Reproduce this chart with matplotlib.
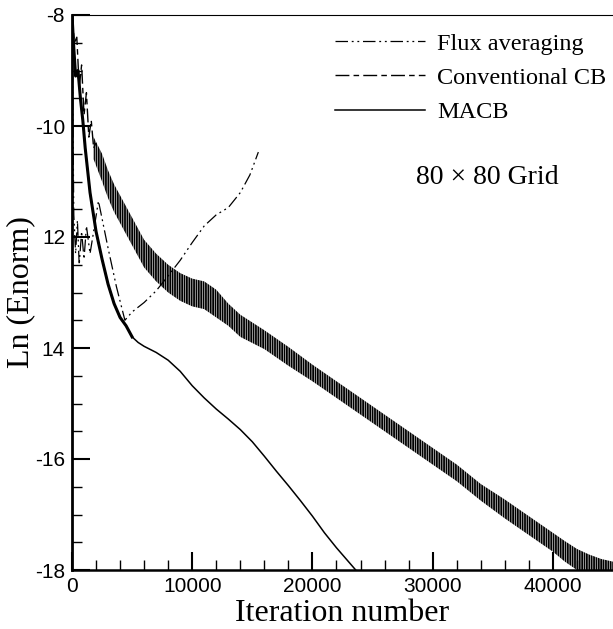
import matplotlib
matplotlib.use("Agg")
import matplotlib.pyplot as plt
from matplotlib.ticker import MultipleLocator

# MACB (solid)
macb_x = [0, 150, 300, 500, 700, 900, 1100, 1500, 2000, 2500, 3000, 3500, 4000, 4500, 5000, 5500,
          6000, 7000, 8000, 9000, 10000, 11000, 12000, 13000, 14000, 15000, 16000, 17000, 18000,
          19000, 20000, 21000, 22000, 23000, 23600]
macb_y = [-8.0, -8.6, -9.1, -9.0, -9.5, -9.9, -10.4, -11.2, -11.9, -12.4, -12.85, -13.2, -13.45,
          -13.6, -13.8, -13.9, -13.97, -14.08, -14.22, -14.42, -14.68, -14.9, -15.1, -15.28, -15.47,
          -15.69, -15.95, -16.22, -16.48, -16.75, -17.03, -17.33, -17.6, -17.85, -18.0]

# Flux averaging (dash-dot-dot)
flux_x = [0, 150, 300, 450, 600, 800, 1000, 1200, 1500, 1800, 2200, 3000, 3700, 4400, 5000, 6000,
          7000, 8000, 9000, 10000, 11000, 12000, 13000, 14000, 14800, 15500]
flux_y = [-8.0, -11.6, -12.3, -11.7, -12.5, -11.9, -12.4, -11.8, -12.3, -11.9, -11.35, -12.2,
          -12.9, -13.5, -13.35, -13.18, -12.97, -12.7, -12.42, -12.1, -11.8, -11.6, -11.47,
          -11.2, -10.88, -10.47]

# Conventional CB: early spiky descent, then a noisy band (upper / lower edges)
conv_x0 = [0, 200, 400, 600, 800, 1000, 1200, 1400, 1600, 1800, 2000]
conv_y0 = [-8.0, -8.5, -8.4, -9.3, -8.9, -9.8, -9.4, -10.2, -9.9, -10.4, -10.3]
conv_x = [1800, 2500, 3000, 3500, 4000, 5000, 6000, 7000, 8000, 9000, 10000, 11000, 12000, 13000,
          14000, 16000, 18000, 20000, 22000, 24000, 26000, 28000, 30000, 32000, 34000, 36000,
          38000, 40000, 41000, 42000, 43000, 44000, 45000]
conv_hi = [-10.2, -10.5, -10.8, -11.05, -11.25, -11.65, -12.05, -12.3, -12.5, -12.65, -12.75,
           -12.8, -12.95, -13.2, -13.4, -13.68, -13.98, -14.3, -14.6, -14.9, -15.2, -15.5,
           -15.8, -16.1, -16.45, -16.73, -17.03, -17.33, -17.48, -17.62, -17.72, -17.8, -17.85]
conv_lo = [-10.6, -11.0, -11.3, -11.55, -11.75, -12.15, -12.55, -12.8, -13.0, -13.15, -13.25,
           -13.3, -13.45, -13.6, -13.8, -14.02, -14.32, -14.6, -14.9, -15.2, -15.5, -15.8,
           -16.1, -16.4, -16.75, -17.07, -17.37, -17.67, -17.85, -18.0, -18.0, -18.0, -18.0]

ytick_vals = [-8, -10, -12, -14, -16, -18]
ytick_text = ["-8", "-10", "12", "14", "-16", "-18"]
xtick_vals = [0, 10000, 20000, 30000, 40000]

serif = "Liberation Serif"
sans = "Liberation Sans"

plt.rcParams["hatch.linewidth"] = 1.3

fig = plt.figure(figsize=(6.13, 6.29), dpi=100)
ax = fig.add_axes([72 / 613, 59 / 629, 541 / 613, 555 / 629])

flux_line, = ax.plot(flux_x, flux_y, color="black", lw=0.9,
                     dashes=(10, 3, 1.5, 3, 1.5, 3), label="Flux averaging")
conv_line, = ax.plot(conv_x0, conv_y0, color="black", lw=1.0,
                     dashes=(10, 3, 4, 3), label="Conventional CB")
ax.fill_between(conv_x, conv_lo, conv_hi, facecolor="none", edgecolor="black",
                linewidth=0, hatch="|||||||")
macb_line, = ax.plot(macb_x, macb_y, color="black", lw=1.1, label="MACB")
ax.plot(macb_x[:15], macb_y[:15], color="black", lw=2.2)

ax.set_xlim(0, 45000)
ax.set_ylim(-18, -8)
ax.set_xticks(xtick_vals)
ax.xaxis.set_minor_locator(MultipleLocator(2000))
ax.set_yticks(ytick_vals)
ax.set_yticklabels(ytick_text)
ax.yaxis.set_minor_locator(MultipleLocator(0.5))
ax.tick_params(which="both", direction="in", top=False, right=False)
ax.tick_params(which="major", length=13, width=1.5, labelsize=15, pad=5)
ax.tick_params(which="minor", length=7, width=1.0)
for lab in ax.get_xticklabels() + ax.get_yticklabels():
    lab.set_fontfamily(sans)

ax.spines["right"].set_visible(False)
ax.spines["left"].set_linewidth(2.0)
ax.spines["bottom"].set_linewidth(1.8)
ax.spines["top"].set_linewidth(0.8)

ax.set_xlabel("Iteration number", fontsize=23, family=serif, labelpad=2)
ax.set_ylabel("Ln (Enorm)", fontsize=23, family=serif, labelpad=0)

ax.legend(handles=[flux_line, conv_line, macb_line], loc="upper left",
          bbox_to_anchor=(0.486, 0.968), frameon=False, borderpad=0, borderaxespad=0,
          handlelength=3.7, handletextpad=0.5, labelspacing=0.5,
          prop={"family": serif, "size": 17.5})
ax.text(0.636, 0.708, "80 × 80 Grid", transform=ax.transAxes, fontsize=20,
        family=serif, va="center", ha="left")

fig.savefig("out.png", dpi=100)
